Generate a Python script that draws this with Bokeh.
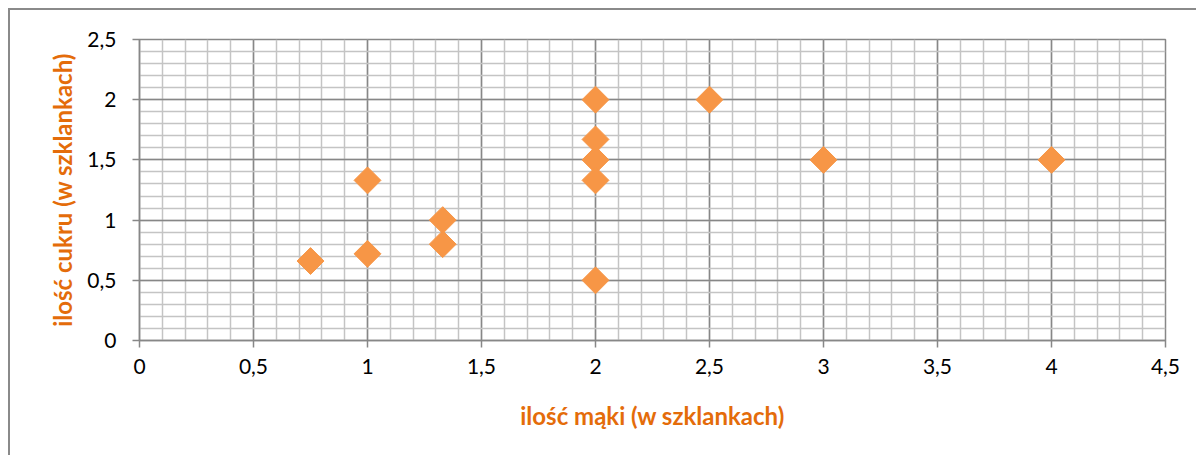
import numpy as np
from bokeh.plotting import figure
from bokeh.models import Range1d, SingleIntervalTicker, ColumnDataSource
from bokeh.embed import file_html
from bokeh.resources import INLINE

# data
flour = [0.75, 1.0, 1.0, 1.33, 1.33, 2.0, 2.0, 2.0, 2.0, 2.0, 2.5, 3.0, 4.0]
sugar = [0.66, 0.72, 1.33, 1.0, 0.8, 2.0, 1.67, 1.5, 1.33, 0.5, 2.0, 1.5, 1.5]

x_ticks = [0, 0.5, 1, 1.5, 2, 2.5, 3, 3.5, 4, 4.5]
x_tick_labels = ["0", "0,5", "1", "1,5", "2", "2,5", "3", "3,5", "4", "4,5"]
y_ticks = [0, 0.5, 1, 1.5, 2, 2.5]
y_tick_labels = ["0", "0,5", "1", "1,5", "2", "2,5"]

x_title = "ilość mąki (w szklankach)"
y_title = "ilość cukru (w szklankach)"

MARKER = "#F79646"
TITLE = "#E46C0A"
MAJOR = "#878787"
MINOR = "#C4C4C4"
FONT = "Lato"

p = figure(width=1188, height=447, output_backend="svg", toolbar_location=None,
           x_range=Range1d(0, 4.5), y_range=Range1d(0, 2.5),
           min_border_left=129, min_border_top=29, min_border_right=33,
           min_border_bottom=117)
p.styles = {"border-left": "2px solid #8A8A8A", "border-top": "2px solid #8A8A8A",
            "margin-left": "8px", "margin-top": "8px"}

p.xaxis.ticker = SingleIntervalTicker(interval=0.5, num_minor_ticks=5)
p.yaxis.ticker = SingleIntervalTicker(interval=0.5, num_minor_ticks=5)
p.xaxis.major_label_overrides = {t: l for t, l in zip(x_ticks, x_tick_labels)}
p.yaxis.major_label_overrides = {t: l for t, l in zip(y_ticks, y_tick_labels)}

for ax in (p.xaxis, p.yaxis):
    ax.axis_line_color = MAJOR
    ax.axis_line_width = 1.5
    ax.major_tick_line_color = MAJOR
    ax.major_tick_line_width = 1.5
    ax.major_tick_out = 7
    ax.major_tick_in = 0
    ax.minor_tick_line_color = None
    ax.major_label_text_font = FONT
    ax.major_label_text_font_size = "21px"
    ax.major_label_text_color = "#000000"
    ax.axis_label_text_font = FONT
    ax.axis_label_text_font_style = "bold"
    ax.axis_label_text_font_size = "24px"
    ax.axis_label_text_color = TITLE

p.xaxis.axis_label = x_title
p.yaxis.axis_label = y_title
p.xaxis.major_label_standoff = 11
p.yaxis.major_label_standoff = 16
p.xaxis.axis_label_standoff = 24
p.yaxis.axis_label_standoff = 7

for g in (p.xgrid, p.ygrid):
    g.grid_line_color = MAJOR
    g.grid_line_width = 1.5
    g.minor_grid_line_color = MINOR
    g.minor_grid_line_width = 1.5
    g.level = "underlay"

p.outline_line_color = MAJOR
p.outline_line_width = 1.5
p.background_fill_color = "white"
p.border_fill_color = "white"

src = ColumnDataSource(dict(x=flour, y=sugar))
p.scatter("x", "y", source=src, marker="square", angle=np.pi / 4, size=19,
          fill_color=MARKER, line_color=MARKER, line_width=1)

open("out.html", "w").write(file_html(p, INLINE))
